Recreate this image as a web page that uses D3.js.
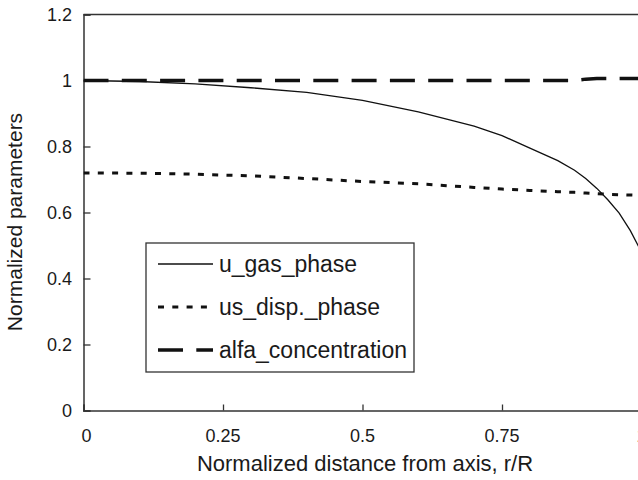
<!DOCTYPE html>
<html>
<head>
<meta charset="utf-8">
<script src="https://cdn.jsdelivr.net/npm/d3@7"></script>
<style>
  body { margin: 0; background: #fff; }
  text { font-family: "Liberation Sans", Arial, sans-serif; fill: #1a1a1a; }
</style>
</head>
<body>
<svg id="chart"></svg>
<script>
// data
const radius = [0, 0.1, 0.2, 0.3, 0.4, 0.5, 0.6, 0.7, 0.75, 0.8, 0.85, 0.88, 0.9, 0.92, 0.94, 0.96, 0.98, 1.0];
const uGas = [1.0, 0.997, 0.99, 0.978, 0.964, 0.94, 0.905, 0.862, 0.833, 0.795, 0.757, 0.728, 0.703, 0.673, 0.638, 0.598, 0.545, 0.48];
const usDisp = [0.72, 0.719, 0.716, 0.711, 0.703, 0.694, 0.687, 0.676, 0.671, 0.667, 0.663, 0.661, 0.659, 0.657, 0.655, 0.654, 0.653, 0.652];
const alfa = [1.0, 1.0, 1.0, 1.0, 1.0, 1.0, 1.0, 1.0, 1.0, 1.0, 1.0, 1.0, 1.004, 1.006, 1.006, 1.006, 1.006, 1.006];
const seriesNames = ["u_gas_phase", "us_disp._phase", "alfa_concentration"];
const xTicks = [0, 0.25, 0.5, 0.75, 1];
const yTicks = [0, 0.2, 0.4, 0.6, 0.8, 1, 1.2];

// layout
const width = 638, height = 480;
const plot = {left: 83.5, top: 14.5, right: 641.5, bottom: 410.5};

const svg = d3.select('#chart')
    .attr('width', width)
    .attr('height', height);

const x = d3.scaleLinear().domain([0, 1]).range([plot.left, plot.right]);
const y = d3.scaleLinear().domain([0, 1.2]).range([plot.bottom, plot.top]);

const styles = [
  {width: 1.3, dash: null},
  {width: 3, dash: '6,8.3'},
  {width: 3.4, dash: '25,13.3'}
];

// plot frame (top edge + axes)
svg.append('line')
    .attr('x1', plot.left).attr('x2', plot.right)
    .attr('y1', plot.top).attr('y2', plot.top)
    .attr('stroke', '#333').attr('stroke-width', 1.5);

const yAxis = svg.append('g')
    .attr('transform', 'translate(' + plot.left + ',0)')
    .call(d3.axisRight(y).tickValues(yTicks).tickSize(7).tickFormat(''));
const xAxis = svg.append('g')
    .attr('transform', 'translate(0,' + plot.bottom + ')')
    .call(d3.axisTop(x).tickValues(xTicks).tickSize(6).tickFormat(''));
[xAxis, yAxis].forEach(function(g) {
  g.select('.domain').attr('stroke', '#333').attr('stroke-width', 1.5);
  g.selectAll('.tick line').attr('stroke', '#333').attr('stroke-width', 1.3);
});

// tick labels
svg.selectAll('.ylab')
    .data(yTicks)
    .enter()
    .append('text')
    .attr('x', 72)
    .attr('y', d => y(d) + 6.5)
    .attr('text-anchor', 'end')
    .style('font-size', '18px')
    .text(d => d3.format('')(d));

svg.selectAll('.xlab')
    .data(xTicks)
    .enter()
    .append('text')
    .attr('x', d => x(d) + (d === 0 ? 3 : 0))
    .attr('y', 442)
    .attr('text-anchor', 'middle')
    .style('font-size', '18px')
    .text(d => d3.format('')(d));

// axis titles
svg.append('text')
    .attr('x', 365)
    .attr('y', 471)
    .attr('text-anchor', 'middle')
    .style('font-size', '22px')
    .text('Normalized distance from axis, r/R');

svg.append('text')
    .attr('transform', 'translate(22,222)rotate(-90)')
    .attr('text-anchor', 'middle')
    .style('font-size', '21px')
    .text('Normalized parameters');

// series
const line = d3.line()
    .x(d => x(d[0]))
    .y(d => y(d[1]));

svg.append('clipPath').attr('id', 'clip')
    .append('rect')
    .attr('x', plot.left).attr('y', plot.top)
    .attr('width', plot.right - plot.left).attr('height', plot.bottom - plot.top);

[uGas, usDisp, alfa].forEach(function(vals, i) {
  svg.append('path')
      .datum(radius.map((r, j) => [r, vals[j]]))
      .attr('d', line)
      .attr('fill', 'none')
      .attr('stroke', '#111')
      .attr('stroke-width', styles[i].width)
      .attr('stroke-dasharray', styles[i].dash)
      .attr('clip-path', 'url(#clip)');
});

// legend
const legend = svg.append('g');
legend.append('rect')
    .attr('x', 146).attr('y', 243)
    .attr('width', 268).attr('height', 129)
    .attr('fill', '#fff')
    .attr('stroke', '#333')
    .attr('stroke-width', 1.3);

const legendY = [264, 307, 350];
seriesNames.forEach(function(name, i) {
  legend.append('line')
      .attr('x1', 158).attr('x2', 213)
      .attr('y1', legendY[i]).attr('y2', legendY[i])
      .attr('stroke', '#111')
      .attr('stroke-width', styles[i].width)
      .attr('stroke-dasharray', styles[i].dash);
  legend.append('text')
      .attr('x', 219)
      .attr('y', legendY[i] + 8)
      .style('font-size', '23px')
      .text(name);
});
</script>
</body>
</html>
